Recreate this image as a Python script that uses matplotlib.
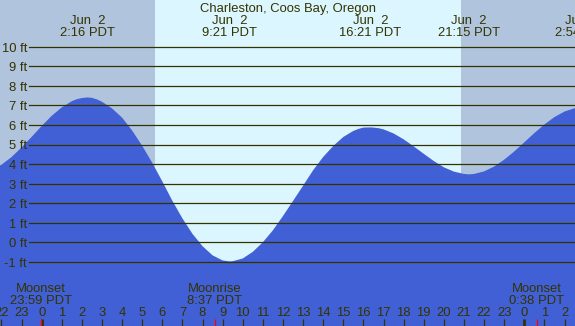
import matplotlib
matplotlib.use("Agg")
import matplotlib.pyplot as plt
import matplotlib.transforms as mtransforms

station = "Charleston, Coos Bay, Oregon"

# hours from midnight Jun 2 (PDT) and tide height (ft)
hours = [-2.5, -2.0, -1.5, -1.0, -0.5, 0.0, 0.5, 1.0, 1.5, 1.75, 2.0, 2.27,
         2.5, 2.75, 3.0, 3.5, 4.0, 4.5, 5.0, 5.5, 6.0, 6.5, 7.0, 7.5, 8.0, 8.5, 9.0, 9.35,
         9.5, 10.0, 10.5, 11.0, 11.5, 12.0, 12.5, 13.0, 13.5, 14.0, 14.5, 15.0,
         15.5, 15.75, 16.0, 16.35,
         16.5, 16.75, 17.0, 17.5, 18.0, 18.5, 19.0, 19.5, 20.0, 20.5, 21.0, 21.25,
         21.5, 22.0, 22.5, 23.0, 23.5, 24.0, 24.5, 25.0, 25.5, 26.0, 26.5, 26.9, 27.0]
heights = [3.71, 3.97, 4.36, 4.85, 5.39, 5.95, 6.47, 6.90, 7.22, 7.32, 7.38, 7.41,
           7.39, 7.31, 7.19, 6.85, 6.38, 5.72, 4.94, 4.07, 3.12, 2.13, 1.23, 0.44, -0.19, -0.66, -0.92, -0.97,
           -0.96, -0.82, -0.48, 0.01, 0.62, 1.35, 2.12, 2.90, 3.69, 4.37, 4.93, 5.39,
           5.70, 5.80, 5.87, 5.88,
           5.87, 5.84, 5.78, 5.57, 5.27, 4.91, 4.53, 4.16, 3.84, 3.62, 3.50, 3.48,
           3.50, 3.63, 3.88, 4.23, 4.65, 5.12, 5.59, 6.03, 6.41, 6.69, 6.86, 6.90, 6.90]

# high / low tides
extreme_hours = [2.27, 9.35, 16.35, 21.25, 26.9]
extreme_dates = ["Jun  2", "Jun  2", "Jun  2", "Jun  2", "Jun  3"]
extreme_times = ["2:16 PDT", "9:21 PDT", "16:21 PDT", "21:15 PDT", "2:54 PDT"]

# moon events
moon_hours = [-0.017, 8.617, 24.633]
moon_names = ["Moonset", "Moonrise", "Moonset"]
moon_times = ["23:59 PDT", "8:37 PDT", "0:38 PDT"]

sunrise = 5.63
sunset = 20.83

ft_levels = list(range(-1, 11))
tick_hours = list(range(-2, 27))

night = "#b0c4de"
day = "#dcf6ff"
water = "#4260d6"
ink = "#333300"
fs = 9.4

plt.rcParams['font.family'] = ['Liberation Sans', 'DejaVu Sans']

W, H = 575, 326
fig = plt.figure(figsize=(W / 100, H / 100), dpi=100)
ax = fig.add_axes([0, 0, 1, 1])
ax.set_xlim(-2.07, 26.52)
ax.set_ylim(-4.27, 12.39)
ax.axis("off")
fig.patch.set_facecolor(day)

ax.axvspan(-5, sunrise, color=night, lw=0, zorder=0)
ax.axvspan(sunset, 30, color=night, lw=0, zorder=0)

ax.fill_between(hours, heights, -10, color=water, lw=0, zorder=1)

lt = mtransforms.blended_transform_factory(ax.transAxes, ax.transData)
for lv in ft_levels:
    ax.axhline(lv, xmin=29 / W, xmax=1, color=ink, lw=0.9, zorder=2)
    ax.text(27 / W, lv - 0.25, "%d ft" % lv, transform=lt,
            ha="right", va="baseline", fontsize=fs, color=ink, zorder=3)

bt = mtransforms.blended_transform_factory(ax.transData, ax.transAxes)

def fy(py):
    return 1 - py / H

ax.text(0.5, fy(12), station, transform=ax.transAxes, ha="center", va="baseline",
        fontsize=fs, color=ink, zorder=4)

for h, d, t in zip(extreme_hours, extreme_dates, extreme_times):
    ax.text(h, fy(24), d, transform=bt, ha="center", va="baseline", fontsize=fs, color=ink, zorder=4)
    ax.text(h, fy(36), t, transform=bt, ha="center", va="baseline", fontsize=fs, color=ink, zorder=4)

for h, n, t in zip(moon_hours, moon_names, moon_times):
    ax.text(h, fy(291.5), n, transform=bt, ha="center", va="baseline", fontsize=fs, color=ink, zorder=4)
    ax.text(h, fy(304), t, transform=bt, ha="center", va="baseline", fontsize=fs, color=ink, zorder=4)

for h in tick_hours:
    ax.text(h, fy(316), str(h % 24), transform=bt, ha="center", va="baseline",
            fontsize=fs, color=ink, zorder=4)
    lw = 2.0 if h % 24 == 0 else 0.9
    ax.vlines(h, 0, fy(318.5), transform=bt, color=ink, lw=lw, zorder=4)

for h in moon_hours:
    ax.vlines(h, 0, fy(318.5), transform=bt, color="red", lw=0.9, zorder=5)

fig.savefig("out.png", dpi=100, facecolor=day)
